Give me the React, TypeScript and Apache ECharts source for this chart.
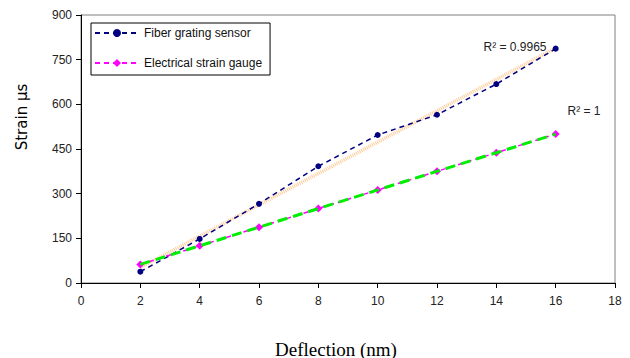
import React, { useEffect, useRef } from "react";
import * as echarts from "echarts";

const deflection = [2, 4, 6, 8, 10, 12, 14, 16];
const fiberStrain = [38, 148, 266, 392, 497, 565, 668, 787];
const gaugeStrain = [62.5, 125, 187.5, 250, 312.5, 375, 437.5, 500];
const fiberTrend = [[2, 52], [16, 789]];
const gaugeTrend = [[2, 62.5], [16, 500]];
const xTicks = { min: 0, max: 18, interval: 2 };
const yTicks = { min: 0, max: 900, interval: 150 };
const fiberName = "Fiber grating sensor";
const gaugeName = "Electrical strain gauge";
const fiberR2 = "R² = 0.9965";
const gaugeR2 = "R² = 1";

export default function App() {
  const ref = useRef<HTMLDivElement>(null);
  useEffect(() => {
    if (!ref.current) return;
    const chart = echarts.init(ref.current, null, { renderer: "svg" });
    const pair = (ys: number[]) => deflection.map((x, i) => [x, ys[i]]);
    chart.setOption({
      animation: false,
      backgroundColor: "#fff",
      textStyle: { fontFamily: "Liberation Sans, Arial, sans-serif" },
      grid: {
        left: 81,
        right: 15,
        top: 15,
        bottom: 75,
        show: true,
        borderColor: "#808080",
        borderWidth: 1,
      },
      xAxis: {
        type: "value",
        min: xTicks.min,
        max: xTicks.max,
        interval: xTicks.interval,
        axisLine: { show: true, lineStyle: { color: "#000", width: 1 } },
        axisTick: { show: true, length: 5, lineStyle: { color: "#000" } },
        axisLabel: { color: "#222", fontSize: 12, margin: 12 },
        splitLine: { show: false },
      },
      yAxis: {
        type: "value",
        min: yTicks.min,
        max: yTicks.max,
        interval: yTicks.interval,
        axisLine: { show: true, lineStyle: { color: "#000", width: 1 } },
        axisTick: { show: true, length: 5, lineStyle: { color: "#000" } },
        axisLabel: { color: "#222", fontSize: 12, margin: 9 },
        splitLine: { show: false },
      },
      legend: {
        data: [fiberName, gaugeName],
        orient: "vertical",
        left: 91,
        top: 23,
        itemWidth: 44,
        itemHeight: 10,
        itemGap: 18,
        padding: [4, 8, 6, 3],
        borderColor: "#000",
        borderWidth: 1,
        backgroundColor: "#fff",
        textStyle: { fontSize: 12, color: "#111", padding: [0, 0, 0, 0] },
      },
      series: [
        {
          name: fiberName,
          type: "line",
          data: pair(fiberStrain),
          symbol: "circle",
          symbolSize: 6,
          itemStyle: { color: "#000080" },
          lineStyle: { color: "#000080", width: 1.5, type: [5, 4] },
          z: 3,
        },
        {
          name: gaugeName,
          type: "line",
          data: pair(gaugeStrain),
          symbol: "diamond",
          symbolSize: 8,
          itemStyle: { color: "#ff00ff" },
          lineStyle: { color: "#ff00ff", width: 1.5, type: [5, 4] },
          z: 3,
        },
        {
          name: "fiberTrend",
          type: "line",
          data: fiberTrend,
          symbol: "none",
          lineStyle: { color: "#ffcc99", width: 3.5, type: [1, 1] },
          z: 2,
          silent: true,
        },
        {
          name: "gaugeTrend",
          type: "line",
          data: gaugeTrend,
          symbol: "none",
          lineStyle: { color: "#00ee00", width: 3, type: [10, 6] },
          z: 4,
          silent: true,
        },
      ],
      graphic: [
        {
          type: "text",
          x: 22,
          y: 117,
          rotation: Math.PI / 2,
          style: {
            text: "Strain µs",
            font: "15px DejaVu Sans, Verdana, sans-serif",
            fill: "#000",
            align: "center",
            verticalAlign: "middle",
          },
        },
        {
          type: "text",
          x: 336,
          y: 349,
          style: {
            text: "Deflection (nm)",
            font: "19px Liberation Serif, Times New Roman, serif",
            fill: "#000",
            align: "center",
            verticalAlign: "middle",
          },
        },
        {
          type: "text",
          x: 515,
          y: 47,
          style: {
            text: fiberR2,
            font: "12px Liberation Sans, Arial, sans-serif",
            fill: "#222",
            align: "center",
            verticalAlign: "middle",
          },
        },
        {
          type: "text",
          x: 584,
          y: 111,
          style: {
            text: gaugeR2,
            font: "12px Liberation Sans, Arial, sans-serif",
            fill: "#222",
            align: "center",
            verticalAlign: "middle",
          },
        },
      ],
    });
    return () => chart.dispose();
  }, []);
  return <div ref={ref} style={{ width: 630, height: 358, position: "absolute", left: 0, top: 0 }} />;
}
